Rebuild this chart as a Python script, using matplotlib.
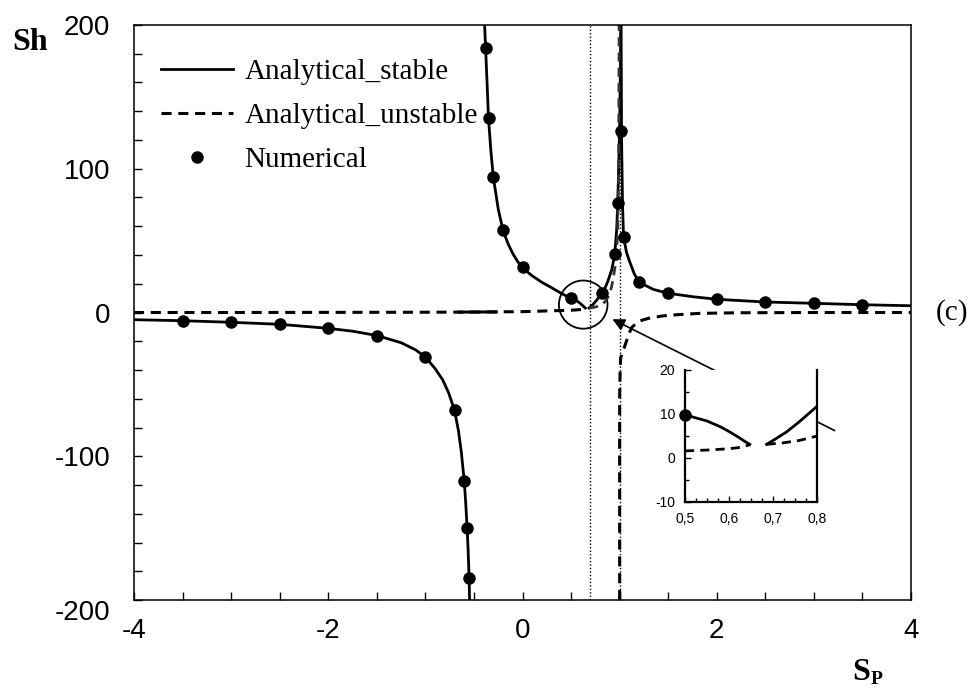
import matplotlib
matplotlib.use('Agg')
import matplotlib.pyplot as plt
from matplotlib.patches import Ellipse

# analytical stable branches
stab_left_x = [-4, -3.5, -3, -2.5, -2, -1.75, -1.5, -1.25, -1.1, -1, -0.9, -0.82, -0.76, -0.7,
               -0.66, -0.63, -0.6, -0.585, -0.57, -0.56, -0.55, -0.545]
stab_left_y = [-5.0, -5.7, -6.8, -8.2, -11, -13, -16, -21, -26, -31, -39, -47, -56, -68,
               -82, -97, -117, -132, -150, -165, -184, -200]

stab_mid_x = [-0.39, -0.38, -0.365, -0.35, -0.325, -0.3, -0.25, -0.2, -0.15, -0.1, -0.05, 0,
              0.1, 0.2, 0.28, 0.4, 0.5, 0.55, 0.58, 0.6, 0.62, 0.635, 0.647]
stab_mid_y = [200, 184, 160, 135, 112, 94, 72, 57, 48, 41, 35.5, 31,
              25.5, 21, 18, 13.3, 9.8, 8.4, 7.1, 6.0, 4.8, 3.8, 3.1]

stab_up_x = [0.685, 0.7, 0.73, 0.76, 0.8, 0.82, 0.85, 0.88, 0.92, 0.95, 0.97, 0.98, 0.99, 1.0, 1.008, 1.012]
stab_up_y = [3.1, 4.0, 5.9, 8.3, 11.8, 13.4, 17, 22, 30, 40.7, 58, 76, 100, 130, 170, 200]

stab_right_x = [1.015, 1.02, 1.03, 1.04, 1.07, 1.1, 1.15, 1.2, 1.35, 1.5, 1.75, 2, 2.5, 3, 3.5, 4]
stab_right_y = [200, 120, 75, 53, 42, 36, 27, 21, 16, 13.4, 11, 9.2, 7.3, 6.4, 5.4, 4.7]

stab_flat_x = [-0.65, -0.27]
stab_flat_y = [0.3, 0.4]

# analytical unstable branches
unst_left_x = [-4, -3, -2, -1, -0.5, 0, 0.3, 0.5, 0.55, 0.6, 0.625, 0.647]
unst_left_y = [0, 0, 0.1, 0.2, 0.3, 0.6, 1.2, 1.6, 1.8, 2.1, 2.4, 3.0]

unst_up_x = [0.685, 0.72, 0.76, 0.8, 0.85, 0.9, 0.93, 0.96, 0.98, 0.99, 0.995]
unst_up_y = [3.1, 3.4, 4.0, 5.0, 7.5, 13, 22, 35, 55, 100, 200]

unst_right_x = [1.0, 1.0, 1.005, 1.01, 1.03, 1.05, 1.1, 1.13, 1.2, 1.3, 1.44, 1.6, 1.82, 2.2, 3, 4]
unst_right_y = [-200, -60, -40, -32, -27, -24, -14, -10, -6, -4, -2.4, -1.5, -0.6, -0.2, 0, 0]

# numerical results
num_x = [-3.5, -3, -2.5, -2, -1.5, -1, -0.7, -0.6, -0.57, -0.55, -0.38, -0.35, -0.3, -0.2, 0,
         0.5, 0.82, 0.95, 0.98, 1.01, 1.04, 1.2, 1.5, 2, 2.5, 3, 3.5]
num_y = [-5.7, -6.8, -8.2, -11, -16.1, -30.7, -67.8, -117, -150, -184.5, 184, 135.5, 94, 57.4, 31.4,
         10.3, 13.4, 40.7, 76.4, 126, 52.7, 21, 13.4, 9.2, 7.3, 6.4, 5.4]

# asymptotes
vlines_x = [0.69, 1.0]

# zoomed window
ins_stab_l_x = [0.5, 0.55, 0.58, 0.6, 0.62, 0.635, 0.647]
ins_stab_l_y = [9.8, 8.4, 7.1, 6.0, 4.8, 3.8, 3.1]
ins_unst_l_x = [0.5, 0.55, 0.6, 0.625, 0.647]
ins_unst_l_y = [1.6, 1.8, 2.1, 2.4, 3.0]
ins_stab_r_x = [0.685, 0.7, 0.73, 0.76, 0.8]
ins_stab_r_y = [3.1, 4.0, 5.9, 8.3, 11.8]
ins_unst_r_x = [0.685, 0.72, 0.76, 0.8]
ins_unst_r_y = [3.1, 3.4, 4.0, 5.0]
ins_num_x = [0.5]
ins_num_y = [9.8]

x_ticks = [-4, -3.5, -3, -2.5, -2, -1.5, -1, -0.5, 0, 0.5, 1, 1.5, 2, 2.5, 3, 3.5, 4]
x_labels = ['-4', '', '', '', '-2', '', '', '', '0', '', '', '', '2', '', '', '', '4']
y_ticks = list(range(-200, 201, 20))
y_labels = [str(v) if v % 100 == 0 and v != -200 else '' for v in y_ticks]

ins_x_ticks = [0.5, 0.6, 0.7, 0.8]
ins_x_labels = ['0,5', '0,6', '0,7', '0,8']
ins_y_ticks = [-10, 0, 10, 20]

SANS = 'Liberation Sans'
SERIF = 'Liberation Serif'
DASH = (0, (3.3, 2.2))

fig = plt.figure(figsize=(9.73, 6.94), dpi=100)
ax = fig.add_axes([0.1377, 0.1354, 0.7986, 0.8286])

for xv in vlines_x:
    ax.axvline(xv, color='black', lw=1.0, ls=(0, (1, 1.5)), zorder=1)

ax.plot(stab_left_x, stab_left_y, color='black', lw=2.0, label='Analytical_stable')
ax.plot(stab_mid_x, stab_mid_y, color='black', lw=2.0)
ax.plot(stab_up_x, stab_up_y, color='black', lw=2.0)
ax.plot(stab_right_x, stab_right_y, color='black', lw=2.0)
ax.plot(stab_flat_x, stab_flat_y, color='black', lw=2.2)

ax.plot(unst_left_x, unst_left_y, color='black', lw=2.2, ls=DASH, label='Analytical_unstable')
ax.plot(unst_up_x, unst_up_y, color='#333333', lw=2.0, ls=DASH)
ax.plot(unst_right_x, unst_right_y, color='black', lw=2.2, ls=DASH)

ax.plot(num_x, num_y, 'o', color='black', ms=8, label='Numerical')

ax.add_patch(Ellipse((0.625, 5.5), 0.5, 33.5, fill=False, lw=1.3, color='black'))
ax.annotate('', xy=(0.9, -3.8), xytext=(3.24, -83),
            arrowprops=dict(arrowstyle='-|>', color='black', lw=1.2, mutation_scale=18))

ax.set_xlim(-4, 4)
ax.set_ylim(-200, 200)
ax.set_xticks(x_ticks)
ax.set_xticklabels(x_labels, fontfamily=SANS, fontsize=20)
ax.set_yticks(y_ticks)
ax.set_yticklabels(y_labels, fontfamily=SANS, fontsize=20)
ax.tick_params(axis='x', direction='in', length=6, width=1, pad=13)
ax.tick_params(axis='y', direction='in', length=6, width=1, pad=17)
for sp in ax.spines.values():
    sp.set_linewidth(1.1)

# the bottom y label sits a little lower in the original
ax.annotate('-200', xy=(-4, -200), xycoords='data', xytext=(-17, -9), textcoords='offset points',
            ha='right', va='center', family=SANS, fontsize=20, annotation_clip=False)

leg = ax.legend(loc='upper left', bbox_to_anchor=(0.02, 0.962), frameon=False,
                prop={'family': SERIF, 'size': 21}, handlelength=2.47, handletextpad=0.38,
                labelspacing=0.6, borderaxespad=0)

fig.text(30 / 973, 1 - 43 / 694, 'Sh', family=SERIF, weight='bold', fontsize=23, ha='center', va='center')
fig.text(861 / 973, 1 - 673 / 694, 'S', family=SERIF, weight='bold', fontsize=23, ha='center', va='center')
fig.text(877 / 973, 1 - 679 / 694, 'P', family=SERIF, weight='bold', fontsize=14, ha='center', va='center')
fig.text(952 / 973, 1 - 313 / 694, '(c)', family=SERIF, fontsize=21, ha='center', va='center')

# inset
ins = fig.add_axes([0.704, 0.2767, 0.136, 0.1902])
ins.plot(ins_stab_l_x, ins_stab_l_y, color='black', lw=2.0)
ins.plot(ins_stab_r_x, ins_stab_r_y, color='black', lw=2.0)
ins.plot(ins_unst_l_x, ins_unst_l_y, color='black', lw=2.0, ls=DASH)
ins.plot(ins_unst_r_x, ins_unst_r_y, color='black', lw=2.0, ls=DASH)
ins.plot(ins_num_x, ins_num_y, 'o', color='black', ms=8, clip_on=False)
ins.set_xlim(0.5, 0.8)
ins.set_ylim(-10, 20)
ins.set_xticks(ins_x_ticks)
ins.set_xticklabels(ins_x_labels, fontfamily=SANS, fontsize=10)
ins.set_yticks(ins_y_ticks)
ins.set_yticklabels([str(v) for v in ins_y_ticks], fontfamily=SANS, fontsize=10)
ins.set_xticks([0.5 + 0.025 * i for i in range(13)], minor=True)
ins.set_yticks([-5, 5, 15], minor=True)
ins.tick_params(which='both', direction='in', width=1)
ins.tick_params(which='major', length=4, pad=7)
ins.tick_params(which='minor', length=3)
ins.spines['top'].set_visible(False)
for sp in ['left', 'bottom', 'right']:
    ins.spines[sp].set_linewidth(1.6)

fig.savefig('out.png', dpi=100)
